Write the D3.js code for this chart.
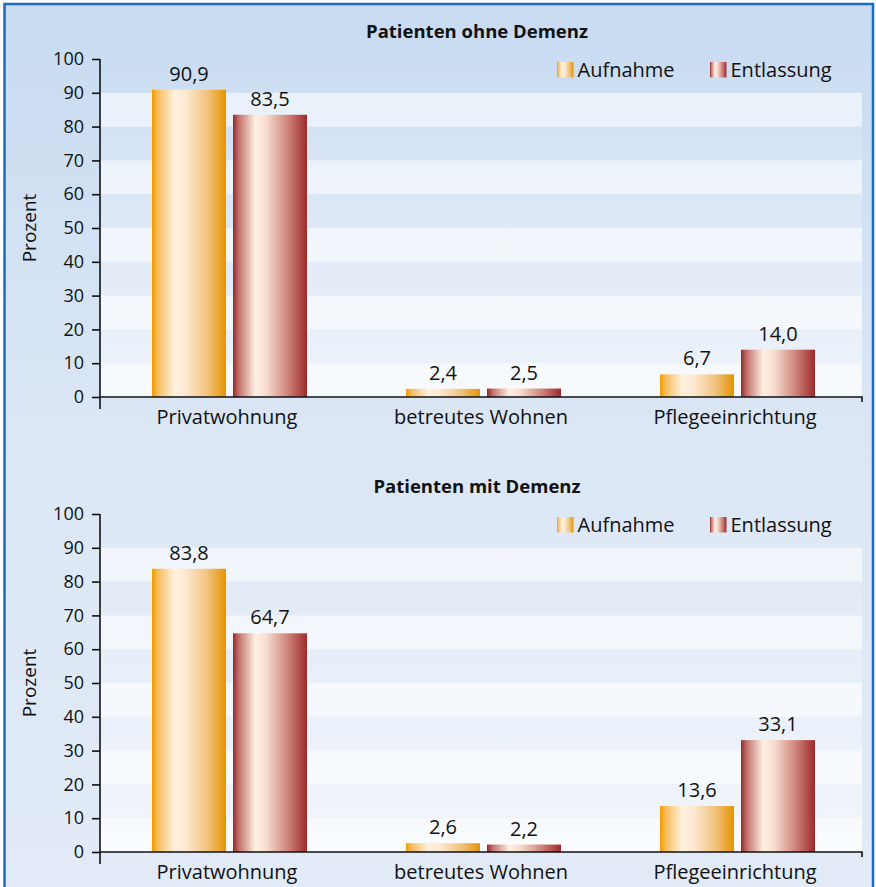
<!DOCTYPE html>
<html>
<head>
<meta charset="utf-8">
<script src="https://cdn.jsdelivr.net/npm/d3@7"></script>
<style>
  html, body { margin: 0; padding: 0; background: #ffffff; }
  svg { display: block; font-family: "Open Sans", "Noto Sans", sans-serif; }
</style>
</head>
<body>
<svg id="chart" width="876" height="887"></svg>
<script>
// Wohnsituation bei Aufnahme und Entlassung (Prozent)
const categories = ["Privatwohnung", "betreutes Wohnen", "Pflegeeinrichtung"];
const seriesNames = ["Aufnahme", "Entlassung"];
const panelTitles = ["Patienten ohne Demenz", "Patienten mit Demenz"];
const ohneDemenzAufnahme = [90.9, 2.4, 6.7];
const ohneDemenzEntlassung = [83.5, 2.5, 14.0];
const mitDemenzAufnahme = [83.8, 2.6, 13.6];
const mitDemenzEntlassung = [64.7, 2.2, 33.1];
const yTicks = [0, 10, 20, 30, 40, 50, 60, 70, 80, 90, 100];
const yAxisTitle = "Prozent";

const panels = [
  { title: panelTitles[0], series: [ohneDemenzAufnahme, ohneDemenzEntlassung], top: 59 },
  { title: panelTitles[1], series: [mitDemenzAufnahme, mitDemenzEntlassung], top: 514 }
];

const W = 876, H = 887;
const plotLeft = 100, plotRight = 862, plotH = 338;

const de = d3.formatLocale({ decimal: ",", thousands: ".", grouping: [3], currency: ["", " €"] });
const fmtValue = de.format(".1f");

const svg = d3.select("#chart");
const defs = svg.append("defs");

// background gradient of the whole figure
const bg = defs.append("linearGradient").attr("id", "bgGrad")
  .attr("x1", 0).attr("y1", 0).attr("x2", 0).attr("y2", 1);
bg.append("stop").attr("offset", "0%").attr("stop-color", "#c8dbf1");
bg.append("stop").attr("offset", "50%").attr("stop-color", "#dce7f5");
bg.append("stop").attr("offset", "100%").attr("stop-color", "#e2ebf7");

// plot area gets lighter towards the baseline
const pa = defs.append("linearGradient").attr("id", "plotGrad")
  .attr("x1", 0).attr("y1", 0).attr("x2", 0).attr("y2", 1);
pa.append("stop").attr("offset", "0%").attr("stop-color", "#ffffff").attr("stop-opacity", 0.0);
pa.append("stop").attr("offset", "100%").attr("stop-color", "#ffffff").attr("stop-opacity", 0.55);

// cylinder-like shading of the bars
const barStops = {
  Aufnahme: [
    [0, "#f29b00"], [0.08, "#f7bd5e"], [0.3, "#fff0df"], [0.45, "#fee9d3"],
    [0.75, "#f0c27d"], [1, "#e59400"]
  ],
  Entlassung: [
    [0, "#9a2628"], [0.08, "#c2736d"], [0.3, "#fff0e2"], [0.45, "#f7dccf"],
    [0.75, "#cd8178"], [1, "#9c2a2c"]
  ]
};
seriesNames.forEach((s, i) => {
  const g = defs.append("linearGradient").attr("id", "barGrad" + i)
    .attr("x1", 0).attr("y1", 0).attr("x2", 1).attr("y2", 0);
  barStops[s].forEach(([o, c]) => g.append("stop").attr("offset", o).attr("stop-color", c));
});

// frame
svg.append("rect")
  .attr("x", 4.5).attr("y", 4).attr("width", 868.5).attr("height", H + 10)
  .attr("fill", "url(#bgGrad)")
  .attr("stroke", "#1b6cc0").attr("stroke-width", 2.5);

const x = d3.scaleBand().domain(categories).range([plotLeft, plotRight]);
const xs = d3.scaleBand().domain(seriesNames).range([-75, 80]).paddingInner(0.0864);

panels.forEach(p => {
  const y = d3.scaleLinear().domain([0, 100]).range([p.top + plotH, p.top]);
  const g = svg.append("g");

  // plot area and alternating bands
  g.append("rect")
    .attr("x", plotLeft).attr("y", y(100))
    .attr("width", plotRight - plotLeft).attr("height", y(0) - y(100))
    .attr("fill", "url(#plotGrad)");
  const bandStarts = yTicks.filter(t => t < 100 && (t / 10) % 2 === 0);
  g.selectAll("rect.band").data(bandStarts).join("rect")
    .attr("class", "band")
    .attr("x", plotLeft).attr("width", plotRight - plotLeft)
    .attr("y", d => y(d + 10)).attr("height", d => y(d) - y(d + 10))
    .attr("fill", "#ffffff").attr("fill-opacity", 0.55);

  // title
  g.append("text")
    .attr("x", (plotLeft + plotRight) / 2 - 4).attr("y", p.top - 21)
    .attr("text-anchor", "middle")
    .attr("font-size", 18.5).attr("font-weight", 700).attr("fill", "#111")
    .text(p.title);

  // bars
  const rows = categories.map((c, ci) => ({ c, values: p.series.map((s, si) => ({ s: seriesNames[si], si, v: s[ci] })) }));
  const groups = g.selectAll("g.cat").data(rows).join("g")
    .attr("class", "cat")
    .attr("transform", d => `translate(${x(d.c) + x.bandwidth() / 2},0)`);
  groups.selectAll("rect").data(d => d.values).join("rect")
    .attr("x", d => xs(d.s)).attr("width", xs.bandwidth())
    .attr("y", d => y(d.v)).attr("height", d => y(0) - y(d.v))
    .attr("fill", d => `url(#barGrad${d.si})`);
  groups.selectAll("text").data(d => d.values).join("text")
    .attr("x", d => xs(d.s) + xs.bandwidth() / 2)
    .attr("y", d => y(d.v) - 9)
    .attr("text-anchor", "middle")
    .attr("font-size", 20).attr("fill", "#111")
    .text(d => fmtValue(d.v));

  // y axis
  const ya = g.append("g").attr("transform", `translate(${plotLeft},0)`)
    .call(d3.axisLeft(y).tickValues(yTicks).tickFormat(d3.format("d"))
      .tickSize(8).tickSizeOuter(0).tickPadding(8));
  ya.select(".domain").remove();
  ya.selectAll(".tick line").attr("stroke", "#111").attr("stroke-width", 1.6);
  ya.selectAll(".tick text").attr("font-size", 18).attr("fill", "#111")
    .attr("font-family", "\"Open Sans\", sans-serif");
  g.append("line")
    .attr("x1", plotLeft).attr("x2", plotLeft)
    .attr("y1", y(100)).attr("y2", y(0) + 12)
    .attr("stroke", "#111").attr("stroke-width", 1.6);

  // x axis
  const xa = g.append("g").attr("transform", `translate(0,${y(0)})`)
    .call(d3.axisBottom(x).tickSize(0).tickSizeOuter(0).tickPadding(9));
  xa.select(".domain").remove();
  xa.selectAll(".tick text").attr("font-size", 20).attr("fill", "#111")
    .attr("font-family", "\"Open Sans\", sans-serif")
    .attr("dy", "0.9em");
  g.append("path")
    .attr("d", `M${plotLeft},${y(0)}H${plotRight}V${y(0) + 5}`)
    .attr("fill", "none").attr("stroke", "#111").attr("stroke-width", 1.6);

  // axis title
  g.append("text")
    .attr("transform", `translate(36,${(y(0) + y(100)) / 2}) rotate(-90)`)
    .attr("text-anchor", "middle")
    .attr("font-size", 19).attr("fill", "#111")
    .text(yAxisTitle);

  // legend
  const legendX = [557, 710];
  const lg = g.selectAll("g.legend").data(seriesNames).join("g")
    .attr("class", "legend")
    .attr("transform", (d, i) => `translate(${legendX[i]},${p.top + 3})`);
  lg.append("rect").attr("width", 16.5).attr("height", 15.5)
    .attr("fill", (d, i) => `url(#barGrad${i})`);
  lg.append("text").attr("x", 20.5).attr("y", 14.5)
    .attr("font-size", 20).attr("fill", "#111")
    .text(d => d);
});
</script>
</body>
</html>
